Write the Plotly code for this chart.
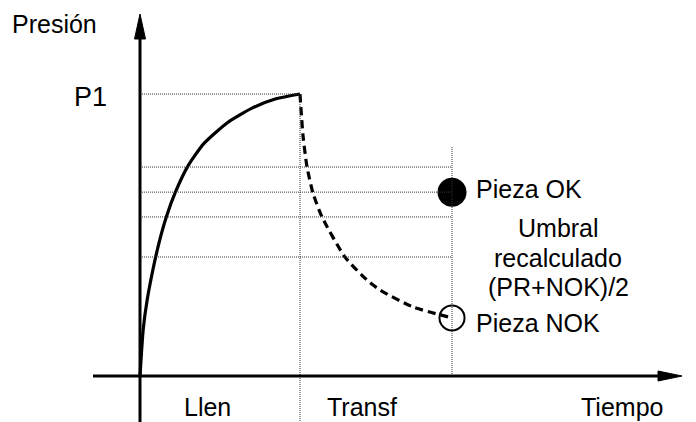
import plotly.graph_objects as go

# Filling phase (Llen): pressure rises from 0 up to P1
t_llen = [0.0, 0.02, 0.045, 0.08, 0.12, 0.165, 0.22, 0.30, 0.40, 0.55, 0.70, 0.85, 1.0]
p_llen = [0.0, 0.165, 0.27, 0.375, 0.475, 0.565, 0.65, 0.745, 0.825, 0.90, 0.95, 0.983, 1.0]

# Transfer phase (Transf): pressure decays from P1 down to the NOK part
t_transf = [1.0, 1.019, 1.044, 1.081, 1.1375, 1.281, 1.419, 1.5, 1.706, 1.95]
p_transf = [1.0, 0.851, 0.741, 0.649, 0.564, 0.422, 0.340, 0.305, 0.245, 0.206]

# Measurement instant and the two reference parts
t_medida = 1.95
p_ok = 0.652
p_nok = 0.206
p1 = 1.0

# Horizontal pressure levels drawn as dotted guides
niveles = [0.741, 0.652, 0.564, 0.422]

W, H = 696, 422
# canvas layout: origin position and scale in pixels
X0, Y0 = 140, 376
SX, SY = 160, 282
x_range = [-X0 / SX, (W - X0) / SX]
y_range = [-(H - Y0) / SY, Y0 / SY]


def xp(px):
    return px / W


def yp(py):
    return 1 - py / H


FONT = "Liberation Sans, Arial, sans-serif"
DOT = dict(color="#333333", width=1, dash="1px,1px")

fig = go.Figure()

# dotted guide lines
shapes = []
shapes.append(dict(type="line", xref="x", yref="y", x0=0, x1=t_llen[-1], y0=p1, y1=p1, line=DOT))
for lv in niveles:
    shapes.append(dict(type="line", xref="x", yref="y", x0=0, x1=t_medida, y0=lv, y1=lv, line=DOT))
shapes.append(dict(type="line", xref="x", yref="y", x0=t_llen[-1], x1=t_llen[-1],
                   y0=p1, y1=y_range[0], line=DOT))
shapes.append(dict(type="line", xref="x", yref="y", x0=t_medida, x1=t_medida,
                   y0=0.812, y1=0, line=DOT))

# axes with arrowheads
AX = dict(color="black", width=3)
shapes.append(dict(type="line", xref="x", yref="paper", x0=0, x1=0, y0=0, y1=yp(34), line=AX))
shapes.append(dict(type="line", xref="paper", yref="y", x0=xp(93), x1=xp(662), y0=0, y1=0, line=AX))
shapes.append(dict(type="path", xref="paper", yref="paper",
                   path=f"M {xp(X0)},{yp(14)} L {xp(X0 - 5.5)},{yp(39)} L {xp(X0 + 5.5)},{yp(39)} Z",
                   fillcolor="black", line=dict(color="black", width=1)))
shapes.append(dict(type="path", xref="paper", yref="paper",
                   path=f"M {xp(682)},{yp(Y0)} L {xp(658)},{yp(Y0 - 5)} L {xp(658)},{yp(Y0 + 5)} Z",
                   fillcolor="black", line=dict(color="black", width=1)))

fig.add_trace(go.Scatter(x=t_llen, y=p_llen, mode="lines",
                         line=dict(color="black", width=3.2, shape="spline", smoothing=0.6),
                         hoverinfo="skip"))
fig.add_trace(go.Scatter(x=t_transf, y=p_transf, mode="lines",
                         line=dict(color="black", width=3.2, dash="8px,5px", shape="spline", smoothing=0.6),
                         hoverinfo="skip"))
fig.add_trace(go.Scatter(x=[t_medida], y=[p_ok], mode="markers",
                         marker=dict(symbol="circle", size=29, color="black"), hoverinfo="skip"))
fig.add_trace(go.Scatter(x=[t_medida], y=[p_nok], mode="markers",
                         marker=dict(symbol="circle-open", size=25, color="black",
                                     line=dict(width=2, color="black")), hoverinfo="skip"))


def label(text, px, py, xanchor="left", size=25):
    return dict(text=text, x=xp(px), y=yp(py), xref="paper", yref="paper",
                xanchor=xanchor, yanchor="middle", showarrow=False,
                font=dict(family=FONT, size=size, color="black"))


annotations = [
    label("Presión", 10, 24),
    label("P1", 109, 97, "right", 27),
    label("Pieza OK", 474, 189),
    label("Umbral", 558, 228, "center"),
    label("recalculado", 558, 258, "center"),
    label("(PR+NOK)/2", 558, 287, "center"),
    label("Pieza NOK", 474, 323),
    label("Llen", 207, 407, "center"),
    label("Transf", 362, 407, "center"),
    label("Tiempo", 622, 407, "center"),
]

fig.update_layout(
    width=W, height=H,
    margin=dict(l=0, r=0, t=0, b=0),
    paper_bgcolor="white", plot_bgcolor="white",
    showlegend=False,
    xaxis=dict(range=x_range, visible=False, fixedrange=True),
    yaxis=dict(range=y_range, visible=False, fixedrange=True),
    shapes=shapes,
    annotations=annotations,
)

fig.write_html("out.html")
